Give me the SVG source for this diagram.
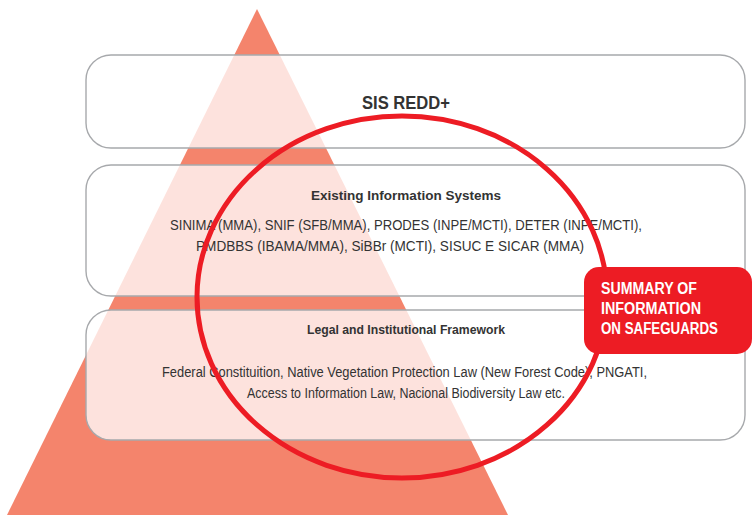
<svg xmlns="http://www.w3.org/2000/svg" width="753" height="515" viewBox="0 0 753 515">
<style>
.box{fill:#ffffff;fill-opacity:0.77;stroke:#a7a9ac;stroke-width:1.4}
.t{font-family:"Liberation Sans",Arial,sans-serif;fill:#333333}
.b{font-weight:bold}
.w{font-family:"Liberation Sans",Arial,sans-serif;font-weight:bold;fill:#ffffff;font-size:16px}
</style>
<rect width="753" height="515" fill="#ffffff"/>
<g id="pyramid">
<polygon points="257,9 7,515 508,515" fill="#f4846c"/>
</g>
<g id="sis-redd">
<rect class="box" x="86" y="55" width="659" height="93" rx="25"/>
<text class="t b" x="406" y="109" font-size="19" text-anchor="middle" textLength="88" lengthAdjust="spacingAndGlyphs">SIS REDD+</text>
</g>
<g id="existing-systems">
<rect class="box" x="86" y="165" width="659" height="131" rx="25"/>
<text class="t b" x="406" y="200" font-size="13.5" text-anchor="middle" textLength="190" lengthAdjust="spacingAndGlyphs">Existing Information Systems</text>
<text class="t" x="170" y="230" font-size="14" textLength="472" lengthAdjust="spacingAndGlyphs">SINIMA (MMA), SNIF (SFB/MMA), PRODES (INPE/MCTI), DETER (INPE/MCTI),</text>
<text class="t" x="196" y="251" font-size="14" textLength="388" lengthAdjust="spacingAndGlyphs">PMDBBS (IBAMA/MMA), SiBBr (MCTI), SISUC E SICAR (MMA)</text>
</g>
<g id="legal-framework">
<rect class="box" x="86" y="310" width="659" height="130" rx="25"/>
<text class="t b" x="406" y="334" font-size="13.5" text-anchor="middle" textLength="198" lengthAdjust="spacingAndGlyphs">Legal and Institutional Framework</text>
<text class="t" x="162" y="377" font-size="14" textLength="485" lengthAdjust="spacingAndGlyphs">Federal Constituition, Native Vegetation Protection Law (New Forest Code), PNGATI,</text>
<text class="t" x="247" y="398" font-size="14" textLength="318" lengthAdjust="spacingAndGlyphs">Access to Information Law, Nacional Biodiversity Law etc.</text>
</g>
<g id="connectors">
<ellipse cx="402" cy="297" rx="205" ry="181" fill="none" stroke="#ed1c24" stroke-width="5"/>
</g>
<g id="summary">
<rect x="584" y="267" width="168" height="87" rx="15" fill="#ed1c24"/>
<text class="w" x="601" y="294" textLength="96" lengthAdjust="spacingAndGlyphs">SUMMARY OF</text>
<text class="w" x="601" y="314" textLength="100" lengthAdjust="spacingAndGlyphs">INFORMATION</text>
<text class="w" x="601" y="334" textLength="117" lengthAdjust="spacingAndGlyphs">ON SAFEGUARDS</text>
</g>
</svg>
